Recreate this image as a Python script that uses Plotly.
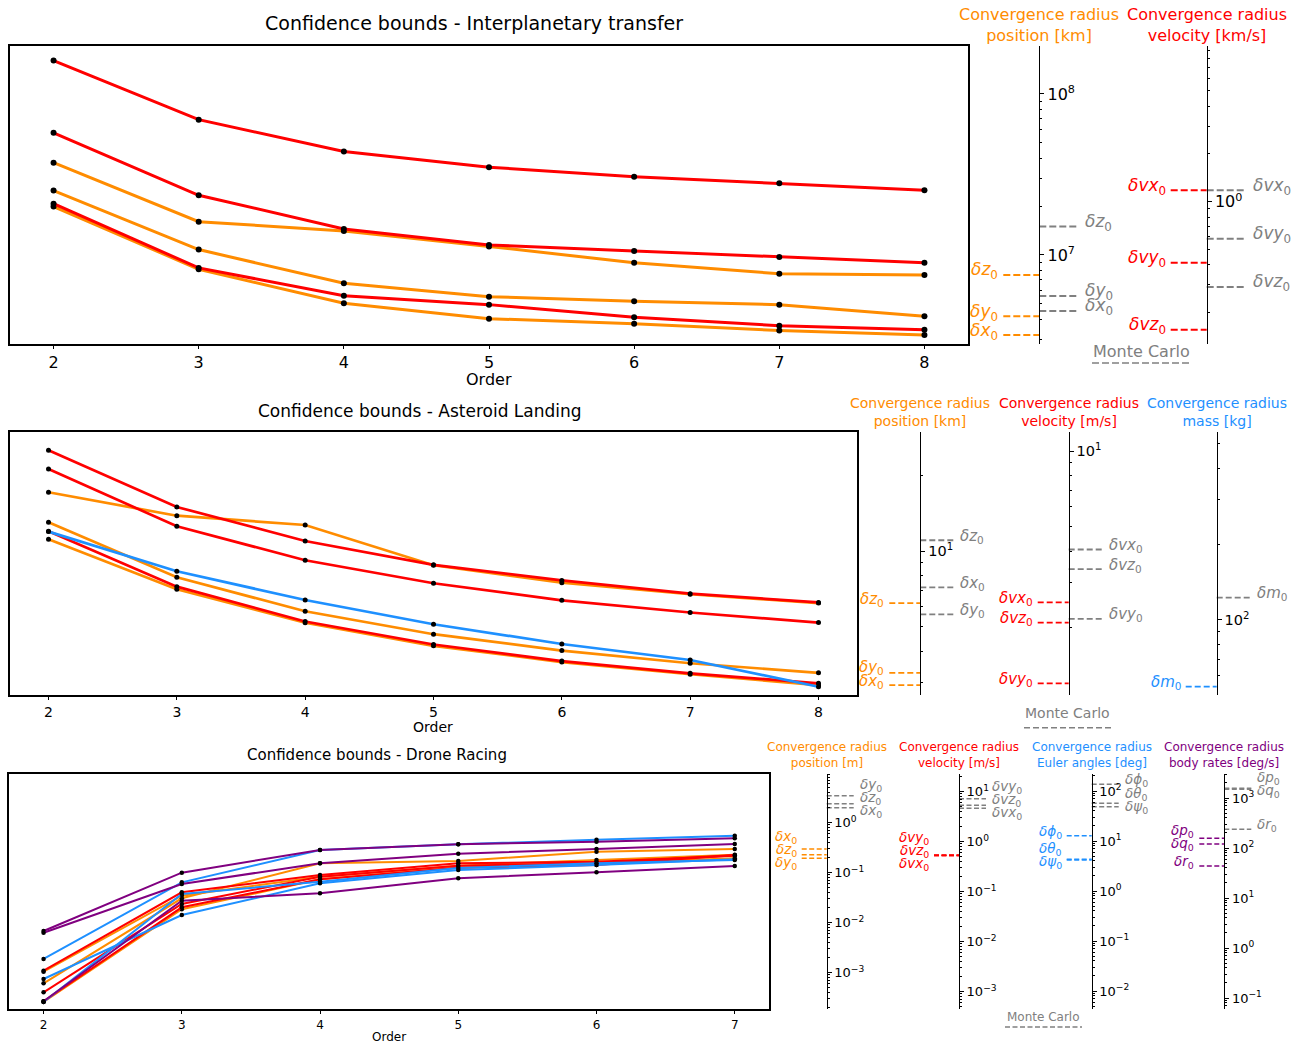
import math
import plotly.graph_objects as go

W, H = 1300, 1045
FONT = "DejaVu Sans"
ORANGE, RED, BLUE, PURPLE, GREY = "#FF8C00", "#FF0000", "#1E90FF", "#800080", "#808080"

# ======================= DATA =======================
# ---- Interplanetary transfer (orders 2..8) ----
ip_orders = [2, 3, 4, 5, 6, 7, 8]
ip_pos_names = ["x", "y", "z"]
ip_pos_x = [2.0e7, 8.15e6, 5.01e6, 4.02e6, 3.74e6, 3.39e6, 3.18e6]      # km
ip_pos_y = [2.51e7, 1.08e7, 6.67e6, 5.51e6, 5.16e6, 4.91e6, 4.16e6]
ip_pos_z = [3.74e7, 1.61e7, 1.41e7, 1.13e7, 8.95e6, 7.65e6, 7.51e6]
ip_mc_pos = [4.49e6, 5.56e6, 1.50e7]
ip_vel_names = ["vx", "vy", "vz"]
ip_vel_x = [7.76, 3.29, 2.07, 1.65, 1.438, 1.306, 1.18]                 # km/s
ip_vel_y = [2.72, 1.097, 0.673, 0.533, 0.489, 0.448, 0.412]
ip_vel_z = [0.971, 0.382, 0.255, 0.224, 0.1866, 0.165, 0.1557]
ip_mc_vel = [1.18, 0.584, 0.2897]

# ---- Asteroid landing (orders 2..8) ----
al_orders = [2, 3, 4, 5, 6, 7, 8]
al_pos_names = ["x", "y", "z"]
al_pos_x = [11.13, 7.05, 5.20, 4.21, 3.63, 3.25, 2.94]                  # km
al_pos_y = [13.0, 7.87, 5.77, 4.68, 4.03, 3.59, 3.29]
al_pos_z = [17.09, 13.80, 12.68, 8.78, 7.49, 6.74, 6.22]
al_mc_pos = [7.18, 5.61, 11.03]
al_vel_names = ["vx", "vy", "vz"]
al_vel_x = [10.06, 6.00, 4.40, 3.54, 3.07, 2.72, 2.51]                  # m/s
al_vel_y = [4.81, 2.90, 2.11, 1.71, 1.47, 1.315, 1.20]
al_vel_z = [8.49, 5.03, 3.69, 2.99, 2.56, 2.29, 2.09]
al_mc_vel = [4.07, 2.16, 3.40]
al_mass_names = ["m"]
al_mass = [224, 156, 120, 96.2, 80.3, 69.4, 54.4]                       # kg
al_mc_mass = [122.6]

# ---- Drone racing (orders 2..7) ----
dr_orders = [2, 3, 4, 5, 6, 7]
dr_pos_names = ["x", "y", "z"]
dr_pos_x = [6.08e-4, 0.0305, 0.153, 0.170, 0.261, 0.295]                # m
dr_pos_y = [2.57e-4, 0.0184, 0.0731, 0.125, 0.153, 0.192]
dr_pos_z = [1.04e-3, 0.0344, 0.0824, 0.137, 0.178, 0.227]
dr_mc_pos = [1.98, 3.44, 2.38]
dr_vel_names = ["vx", "vy", "vz"]
dr_vel_x = [2.61e-3, 0.0964, 0.214, 0.366, 0.394, 0.52]                 # m/s
dr_vel_y = [9.64e-4, 0.0562, 0.198, 0.328, 0.366, 0.537]
dr_vel_z = [6.37e-4, 0.0483, 0.175, 0.299, 0.339, 0.53]
dr_mc_vel = [4.61, 7.18, 5.30]
dr_eul_names = ["ϕ", "θ", "ψ"]
dr_eul_phi = [0.0437, 1.49, 6.61, 8.59, 10.6, 12.8]                     # deg
dr_eul_theta = [0.0174, 0.331, 1.43, 2.63, 3.31, 4.31]
dr_eul_psi = [6.03e-3, 0.871, 1.53, 2.88, 3.58, 4.17]
dr_mc_eul = [136, 56.8, 48.5]
dr_rate_names = ["p", "q", "r"]
dr_rate_p = [2.19, 32.1, 91.2, 119, 134, 156]                           # deg/s
dr_rate_q = [2.02, 19.1, 49.4, 76.9, 95.5, 120]
dr_rate_r = [0.0859, 8.83, 12.4, 24.8, 32.7, 43.7]
dr_mc_rate = [1563, 1493, 237]

# ======================= HELPERS =======================
cnt = {"x": 0, "y": 0}
axes_layout = {}
annotations = []
shapes = []
traces = []


def new_axis(kind):
    cnt[kind] += 1
    n = cnt[kind]
    ref = kind if n == 1 else f"{kind}{n}"
    key = f"{kind}axis" if n == 1 else f"{kind}axis{n}"
    return ref, key


def sup(e):
    return "10<sup>" + (str(e) if e >= 0 else "−" + str(-e)) + "</sup>"


def minor_vals(rng):
    out = []
    for k in range(math.floor(rng[0]) - 1, math.ceil(rng[1]) + 1):
        for m in range(2, 10):
            v = m * 10 ** k
            if rng[0] <= math.log10(v) <= rng[1]:
                out.append(v)
    return out


def dlabel(sym):
    return f"<i>δ{sym}</i><sub>0</sub>"


def spread(ys, gap):
    idx = sorted(range(len(ys)), key=lambda i: ys[i])
    pos = [ys[i] for i in idx]
    for _ in range(2000):
        moved = False
        for k in range(1, len(pos)):
            d = pos[k] - pos[k - 1]
            if d < gap - 1e-6:
                s = (gap - d) / 2
                pos[k] += s
                pos[k - 1] -= s
                moved = True
        if not moved:
            break
    out = [0.0] * len(ys)
    for j, i in enumerate(idx):
        out[i] = pos[j]
    return out


def draw_panel(orders, box, xrange, fs, tick_fs, lab_fs, title, title_fs, title_xy, order_xy,
               line_w, marker_size, frame_w, groups, head_y, dash_len, dash_pat,
               dash_w, label_gap, mc_text_xy, mc_line):
    x0, x1, y0, y1 = box
    ydom = [1 - y1 / H, 1 - y0 / H]
    xref, xkey = new_axis("x")
    main_yref, main_ykey = new_axis("y")
    axes_layout[xkey] = dict(
        domain=[x0 / W, x1 / W], range=xrange, anchor=main_yref,
        showline=True, mirror=True, linecolor="black", linewidth=frame_w,
        ticks="outside", ticklen=3.5, tickwidth=1, tickcolor="black",
        tickvals=orders, tickfont=dict(size=fs, color="black"),
        showgrid=False, zeroline=False)
    for gi, g in enumerate(groups):
        if gi == 0:
            yref, ykey = main_yref, main_ykey
            axes_layout[ykey] = dict(
                domain=ydom, anchor=xref, type="log", range=g["rng"],
                showline=True, mirror=True, linecolor="black", linewidth=frame_w,
                ticks="", showticklabels=False, showgrid=False, zeroline=False)
        else:
            yref, ykey = new_axis("y")
            axes_layout[ykey] = dict(
                overlaying=main_yref, anchor=xref, type="log", range=g["rng"],
                visible=False, showgrid=False, zeroline=False)
        g["main_yref"] = yref
    for g in groups:
        for vals in g["series"]:
            traces.append(go.Scatter(
                x=orders, y=vals, mode="lines+markers", xaxis=xref, yaxis=g["main_yref"],
                line=dict(color=g["color"], width=line_w),
                marker=dict(color="black", size=marker_size),
                showlegend=False, hoverinfo="skip"))
    lc, lg = dash_len
    for g in groups:
        p = g["axis_x"]
        sxref, sxkey = new_axis("x")
        syref, sykey = new_axis("y")
        axes_layout[sxkey] = dict(domain=[(p - 62) / W, (p + 62) / W], range=[-62, 62],
                                  anchor=syref, visible=False, fixedrange=True)
        tv = [10 ** e for e in g["tick_exp"]]
        axes_layout[sykey] = dict(
            domain=ydom, type="log", range=g["rng"], anchor="free", position=p / W,
            side="right", showline=True, linecolor="black", linewidth=1,
            ticks="outside", ticklen=4, tickcolor="black",
            tickmode="array", tickvals=tv, ticktext=[sup(e) for e in g["tick_exp"]],
            tickfont=dict(size=tick_fs, color="black"),
            minor=dict(tickmode="array", tickvals=minor_vals(g["rng"]), ticks="outside",
                       ticklen=2, tickcolor="black"),
            showgrid=False, zeroline=False, fixedrange=True)
        rb, rt = g["rng"]

        def to_px(v):
            return y0 + (rt - math.log10(v)) / (rt - rb) * (y1 - y0)

        finals = [s[-1] for s in g["series"]]
        for vals, col, xs, xa, ax_off in (
                (finals, g["color"], [-lc, 0], "right", -(lc + 3)),
                (g["mc"], GREY, [0, lg], "left", lg + 4)):
            for v in vals:
                traces.append(go.Scatter(
                    x=xs, y=[v, v], mode="lines", xaxis=sxref, yaxis=syref,
                    line=dict(color=col, width=dash_w, dash=dash_pat),
                    showlegend=False, hoverinfo="skip"))
            pys = [to_px(v) for v in vals]
            new = spread(pys, label_gap)
            for v, nm, py, npy in zip(vals, g["names"], pys, new):
                annotations.append(dict(
                    x=ax_off, y=math.log10(v), xref=sxref, yref=syref,
                    text=dlabel(nm), showarrow=False, xanchor=xa, yanchor="middle",
                    yshift=py - npy + 4, font=dict(size=lab_fs, color=col)))
        annotations.append(dict(
            x=p / W, y=1 - head_y / H, xref="paper", yref="paper",
            text="Convergence radius<br>" + g["head"], showarrow=False,
            xanchor="center", yanchor="middle", font=dict(size=fs, color=g["color"])))
    annotations.append(dict(x=title_xy[0] / W, y=1 - title_xy[1] / H, xref="paper", yref="paper",
                            text=title, showarrow=False, xanchor="center", yanchor="middle",
                            font=dict(size=title_fs, color="black")))
    annotations.append(dict(x=order_xy[0] / W, y=1 - order_xy[1] / H, xref="paper", yref="paper",
                            text="Order", showarrow=False, xanchor="center", yanchor="middle",
                            font=dict(size=fs, color="black")))
    annotations.append(dict(x=mc_text_xy[0] / W, y=1 - mc_text_xy[1] / H, xref="paper", yref="paper",
                            text="Monte Carlo", showarrow=False, xanchor="center", yanchor="middle",
                            font=dict(size=fs, color=GREY)))
    shapes.append(dict(type="line", xref="paper", yref="paper",
                       x0=mc_line[0] / W, x1=mc_line[1] / W, y0=1 - mc_line[2] / H, y1=1 - mc_line[2] / H,
                       line=dict(color=GREY, width=1.5, dash=dash_pat)))


# ======================= PANELS =======================
draw_panel(
    orders=ip_orders, box=(10, 968, 46, 343.5), xrange=[1.7, 8.3], fs=16, tick_fs=16, lab_fs=17,
    title="Confidence bounds - Interplanetary transfer", title_fs=19,
    title_xy=(474, 23), order_xy=(489, 379), line_w=3, marker_size=6, frame_w=1.8,
    groups=[
        dict(color=ORANGE, head="position [km]", axis_x=1039.3, rng=[6.450, 8.298],
             tick_exp=[7, 8], series=[ip_pos_x, ip_pos_y, ip_pos_z], names=ip_pos_names, mc=ip_mc_pos),
        dict(color=RED, head="velocity [km/s]", axis_x=1206.7, rng=[-0.895, 0.982],
             tick_exp=[0], series=[ip_vel_x, ip_vel_y, ip_vel_z], names=ip_vel_names, mc=ip_mc_vel),
    ],
    head_y=25, dash_len=(36, 40), dash_pat="7px,3px", dash_w=2, label_gap=15,
    mc_text_xy=(1141, 352), mc_line=(1092, 1191, 363))

draw_panel(
    orders=al_orders, box=(10, 857, 432, 695), xrange=[1.7, 8.3], fs=14, tick_fs=14.5, lab_fs=15,
    title="Confidence bounds - Asteroid Landing", title_fs=17,
    title_xy=(420, 411), order_xy=(433, 727), line_w=2.7, marker_size=5, frame_w=1.8,
    groups=[
        dict(color=ORANGE, head="position [km]", axis_x=920.3, rng=[0.4293, 1.4717],
             tick_exp=[1], series=[al_pos_x, al_pos_y, al_pos_z], names=al_pos_names, mc=al_mc_pos),
        dict(color=RED, head="velocity [m/s]", axis_x=1068.7, rng=[0.0329, 1.0753],
             tick_exp=[1], series=[al_vel_x, al_vel_y, al_vel_z], names=al_vel_names, mc=al_mc_vel),
        dict(color=BLUE, head="mass [kg]", axis_x=1216.7, rng=[1.7027, 2.7451],
             tick_exp=[2], series=[al_mass], names=al_mass_names, mc=al_mc_mass),
    ],
    head_y=412, dash_len=(31, 34), dash_pat="6px,3px", dash_w=1.8, label_gap=14,
    mc_text_xy=(1067, 713), mc_line=(1024, 1111, 727.7))

draw_panel(
    orders=dr_orders, box=(9, 769.3, 774, 1009), xrange=[1.75, 7.25], fs=12, tick_fs=13, lab_fs=13.5,
    title="Confidence bounds - Drone Racing", title_fs=15,
    title_xy=(376.5, 755), order_xy=(389, 1037), line_w=2, marker_size=4.5, frame_w=1.5,
    groups=[
        dict(color=ORANGE, head="position [m]", axis_x=826.7, rng=[-3.73, 0.97],
             tick_exp=[-3, -2, -1, 0], series=[dr_pos_x, dr_pos_y, dr_pos_z], names=dr_pos_names, mc=dr_mc_pos),
        dict(color=RED, head="velocity [m/s]", axis_x=959, rng=[-3.35, 1.35],
             tick_exp=[-3, -2, -1, 0, 1], series=[dr_vel_x, dr_vel_y, dr_vel_z], names=dr_vel_names, mc=dr_mc_vel),
        dict(color=BLUE, head="Euler angles [deg]", axis_x=1091.7, rng=[-2.36, 2.34],
             tick_exp=[-2, -1, 0, 1, 2], series=[dr_eul_phi, dr_eul_theta, dr_eul_psi], names=dr_eul_names, mc=dr_mc_eul),
        dict(color=PURPLE, head="body rates [deg/s]", axis_x=1224.3, rng=[-1.22, 3.48],
             tick_exp=[-1, 0, 1, 2, 3], series=[dr_rate_p, dr_rate_q, dr_rate_r], names=dr_rate_names, mc=dr_mc_rate),
    ],
    head_y=755, dash_len=(25, 27), dash_pat="5px,2.5px", dash_w=1.5, label_gap=13,
    mc_text_xy=(1043, 1017), mc_line=(1005, 1082, 1027))

fig = go.Figure(data=traces)
fig.update_layout(
    width=W, height=H, margin=dict(l=0, r=0, t=0, b=0),
    paper_bgcolor="white", plot_bgcolor="rgba(0,0,0,0)",
    font=dict(family=FONT, color="black"), showlegend=False,
    annotations=annotations, shapes=shapes, **axes_layout)
fig.write_html("out.html", config={"displayModeBar": False},
               post_script="document.body.style.margin='0';document.body.style.overflow='hidden';")
